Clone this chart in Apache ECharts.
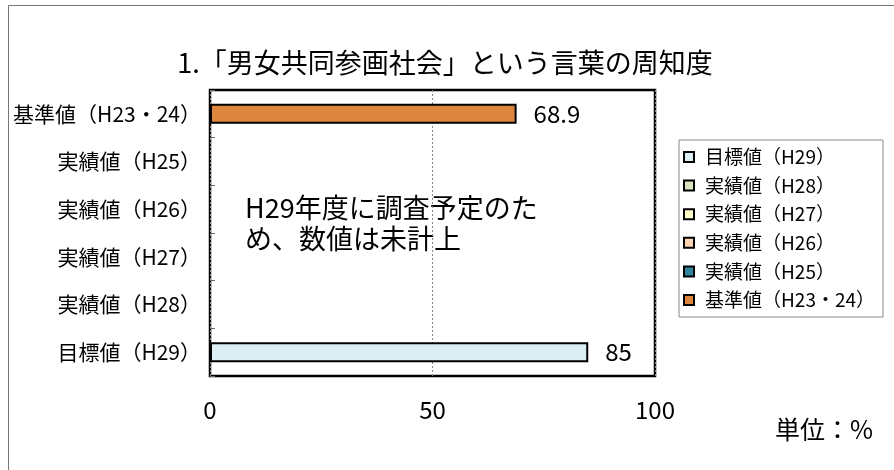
<!DOCTYPE html>
<html>
<head>
<meta charset="utf-8">
<script src="https://cdn.jsdelivr.net/npm/echarts@6/dist/echarts.min.js"></script>
<style>
html,body{margin:0;padding:0;background:#fff;}
#main{width:894px;height:470px;}
</style>
</head>
<body>
<div id="main"></div>
<script>
// Categories, top to bottom
var categories = ['基準値（H23・24）', '実績値（H25）', '実績値（H26）', '実績値（H27）', '実績値（H28）', '目標値（H29）'];
// Series (legend order) and their values per category
var seriesNames = ['目標値（H29）', '実績値（H28）', '実績値（H27）', '実績値（H26）', '実績値（H25）', '基準値（H23・24）'];
var seriesValues = [85, null, null, null, null, 68.9];
var seriesColors = ['#DAEEF3', '#D7E4BD', '#FFFFCC', '#FCD5B5', '#31859C', '#DC853E'];
var xTicks = [0, 50, 100];
var titleText = '1.「男女共同参画社会」という言葉の周知度';
var noteText = 'H29年度に調査予定のた\nめ、数値は未計上';
var unitText = '単位：%';

var FONT = '"Noto Sans CJK JP", "Noto Sans", sans-serif';

var series = seriesNames.map(function (name, i) {
  var data = categories.map(function (c) { return c === name ? seriesValues[i] : null; });
  return {
    name: name,
    type: 'bar',
    stack: 'all',
    barWidth: 20,
    data: data,
    itemStyle: { color: seriesColors[i], borderColor: '#000', borderWidth: 2 },
    label: {
      show: true,
      position: 'right',
      distance: 17,
      fontSize: 24,
      fontFamily: FONT,
      color: '#000',
      formatter: function (p) { return p.value == null ? '' : String(p.value); }
    },
    emphasis: { disabled: true }
  };
});

var chart = echarts.init(document.getElementById('main'));
chart.setOption({
  animation: false,
  backgroundColor: '#fff',
  title: {
    text: titleText,
    left: 440,
    textAlign: 'center',
    top: 44,
    textStyle: { fontSize: 27, fontWeight: 'normal', color: '#000', fontFamily: FONT }
  },
  legend: {
    orient: 'vertical',
    left: 679,
    top: 140,
    padding: [7, 8, 7, 4],
    borderColor: '#888',
    borderWidth: 1,
    itemWidth: 10,
    itemHeight: 10,
    itemGap: 8.6,
    icon: 'rect',
    data: seriesNames,
    textStyle: { fontSize: 19, lineHeight: 20, color: '#000', fontFamily: FONT, padding: [0, 0, 0, 6] }
  },
  grid: {
    left: 210, right: 239, top: 90, bottom: 94,
    show: true, borderColor: '#000', borderWidth: 2.5, backgroundColor: 'transparent'
  },
  xAxis: {
    type: 'value',
    min: xTicks[0],
    max: xTicks[xTicks.length - 1],
    interval: xTicks[1] - xTicks[0],
    axisLine: { show: false },
    axisTick: { show: false },
    axisLabel: { fontSize: 24, color: '#000', fontFamily: FONT, margin: 22 },
    splitLine: { show: true, lineStyle: { color: '#888', type: [2, 2], width: 1 } }
  },
  yAxis: {
    type: 'category',
    inverse: true,
    data: categories,
    axisLine: { show: false },
    axisTick: { show: true, inside: true, length: 5, lineStyle: { color: '#666' } },
    axisLabel: { fontSize: 21, color: '#000', fontFamily: FONT, margin: 9 }
  },
  graphic: [
    { type: 'rect', left: 6, top: 3, shape: { width: 1000, height: 1000 }, style: { fill: 'none', stroke: '#777', lineWidth: 1 }, silent: true },
    { type: 'text', left: 245, top: 192, style: { text: noteText, fontSize: 27, lineHeight: 31, fill: '#000', fontFamily: FONT } },
    { type: 'text', left: 775, top: 417, style: { text: unitText, fontSize: 25, fill: '#000', fontFamily: FONT } }
  ],
  series: series
});
</script>
</body>
</html>
